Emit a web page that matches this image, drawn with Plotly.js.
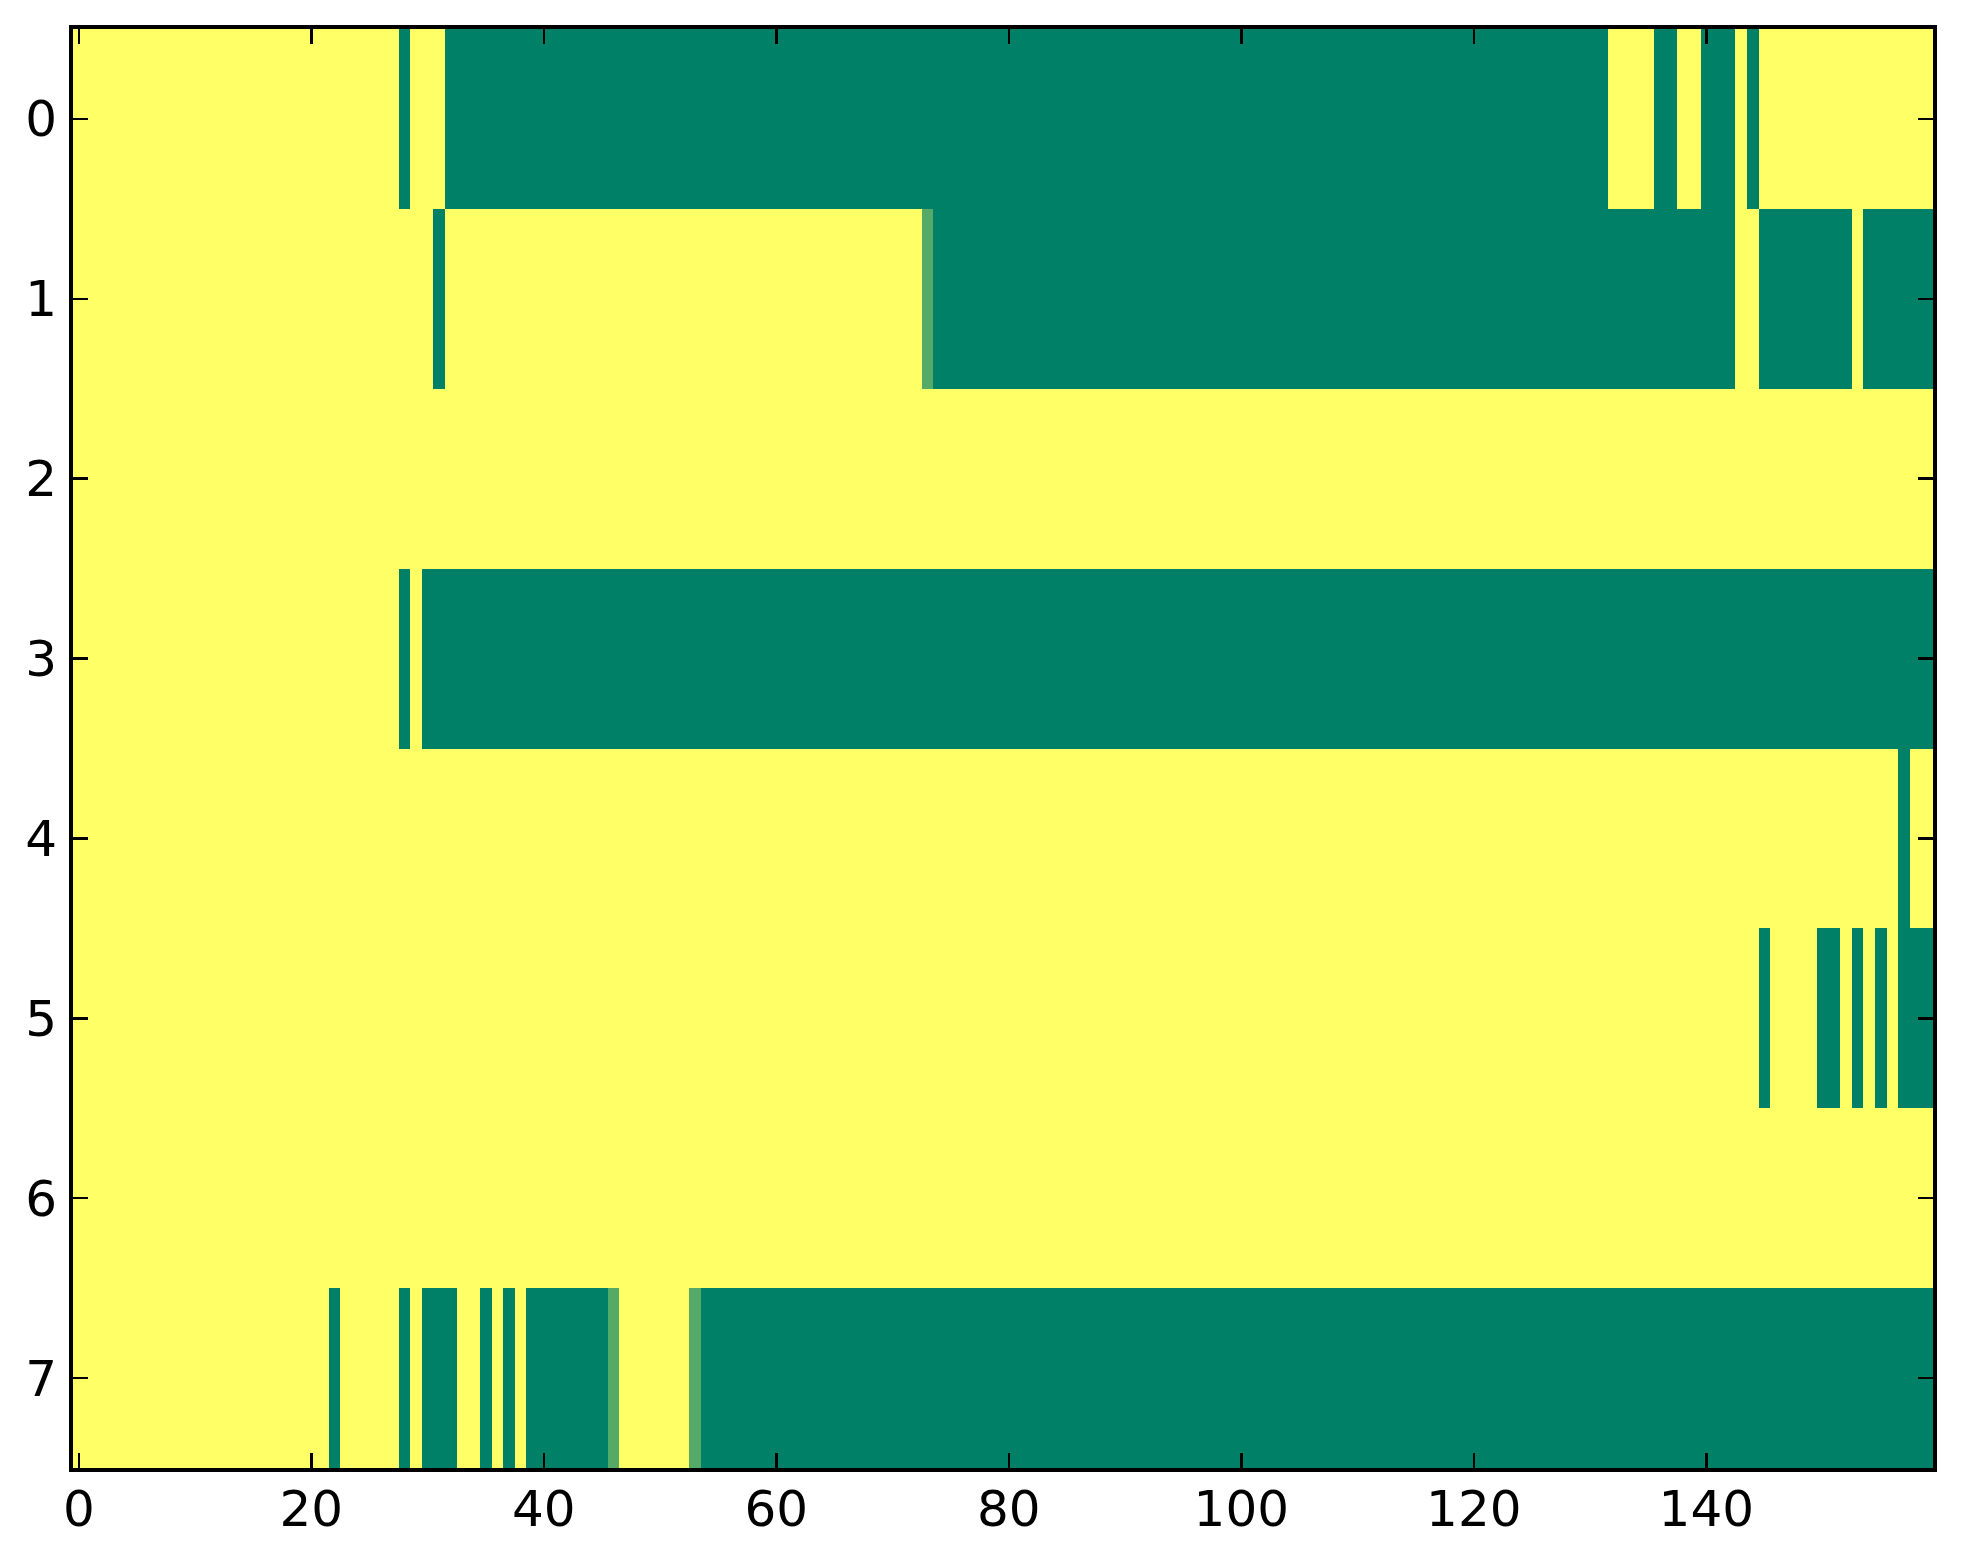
<!DOCTYPE html>
<html>
<head>
<meta charset="utf-8">
<script src="https://cdn.plot.ly/plotly-3.0.1.min.js"></script>
<style>
  html, body { margin: 0; padding: 0; background: #fff; }
  #chart { width: 1963px; height: 1564px; }
</style>
</head>
<body>
<div id="chart"></div>
<script>
// each row is a list of [value, run length] pairs, read left to right (160 columns)
const row0 = [[1, 28], [0, 1], [1, 3], [0, 100], [1, 4], [0, 2], [1, 2], [0, 3], [1, 1], [0, 1], [1, 15]];
const row1 = [[1, 31], [0, 1], [1, 41], [0.33, 1], [0, 69], [1, 2], [0, 8], [1, 1], [0, 6]];
const row2 = [[1, 160]];
const row3 = [[1, 28], [0, 1], [1, 1], [0, 130]];
const row4 = [[1, 157], [0, 1], [1, 2]];
const row5 = [[1, 145], [0, 1], [1, 4], [0, 2], [1, 1], [0, 1], [1, 1], [0, 1], [1, 1], [0, 3]];
const row6 = [[1, 160]];
const row7 = [[1, 22], [0, 1], [1, 5], [0, 1], [1, 1], [0, 3], [1, 2], [0, 1], [1, 1], [0, 1], [1, 1],
              [0, 7], [0.33, 1], [1, 6], [0.33, 1], [0, 106]];

const rows = [row0, row1, row2, row3, row4, row5, row6, row7];
const xTicks = [0, 20, 40, 60, 80, 100, 120, 140];
const yTicks = [0, 1, 2, 3, 4, 5, 6, 7];

// matplotlib "summer": green -> yellow
const summer = [[0, "#008066"], [1, "#ffff66"]];

function expand(runs) {
  const out = [];
  runs.forEach(([v, n]) => {
    for (let i = 0; i < n; i++) out.push(v);
  });
  return out;
}

const z = rows.map(expand);
const nCols = z[0].length;

const axisBase = {
  showgrid: false,
  zeroline: false,
  showline: true,
  linecolor: "#000",
  linewidth: 4,
  mirror: "ticks",
  ticks: "inside",
  ticklen: 15,
  tickwidth: 2.5,
  tickcolor: "#000",
  tickfont: { family: "DejaVu Sans", size: 50, color: "#000" },
  fixedrange: true,
};

Plotly.newPlot(
  "chart",
  [
    {
      type: "heatmap",
      z: z,
      colorscale: summer,
      zmin: 0,
      zmax: 1,
      showscale: false,
      zsmooth: false,
      hoverinfo: "skip",
    },
  ],
  {
    width: 1963,
    height: 1564,
    margin: { l: 73, r: 30, t: 29, b: 96, pad: 0 },
    paper_bgcolor: "#fff",
    plot_bgcolor: "#fff",
    font: { family: "DejaVu Sans", size: 50, color: "#000" },
    xaxis: Object.assign({}, axisBase, {
      range: [-0.5, nCols - 0.5],
      tickmode: "array",
      tickvals: xTicks,
      ticktext: xTicks.map(String),
      ticklabelstandoff: -6,
    }),
    yaxis: Object.assign({}, axisBase, {
      range: [rows.length - 0.5, -0.5],
      tickmode: "array",
      tickvals: yTicks,
      ticktext: yTicks.map(String),
      ticklabelstandoff: 2,
    }),
  },
  { staticPlot: true }
);
</script>
</body>
</html>
